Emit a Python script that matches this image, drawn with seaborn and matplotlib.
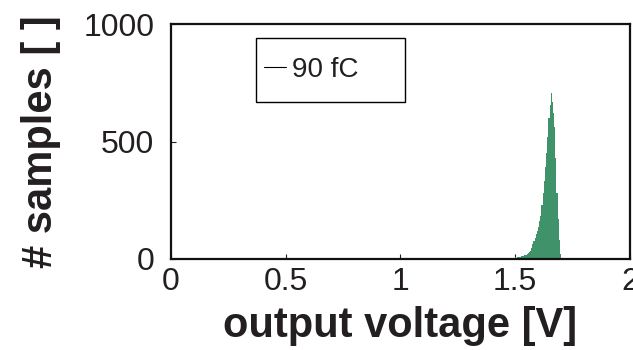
import numpy as np
import pandas as pd
import matplotlib
matplotlib.use("Agg")
import matplotlib.pyplot as plt
from matplotlib.lines import Line2D
from matplotlib.patches import Rectangle
import seaborn as sns

# Histogram of output voltage, 5 mV bins starting at 1.430 V
bin_start = 1.430
bin_width = 0.005
counts = [
    2, 2, 3, 2, 3, 3, 4, 3, 4, 5,          # 1.430 - 1.475
    4, 5, 6, 5, 7, 6, 8, 9, 10, 11,        # 1.480 - 1.525
    11, 13, 15, 17, 20, 24, 28, 35, 48, 62, # 1.530 - 1.575
    75, 89, 105, 120, 135, 160, 185, 230, 280, 330,  # 1.580 - 1.625
    390, 450, 520, 600, 655, 705, 670, 620, 560, 430,  # 1.630 - 1.675
    280, 170, 80, 20, 5, 3, 2, 3, 2, 2,    # 1.680 - 1.725
    3, 2, 2, 3, 2, 2, 3, 2, 2, 2,          # 1.730 - 1.775
    3, 2, 2, 2, 3, 2, 2, 2,                # 1.780 - 1.815
]
legend_label = "90 fC"
x_ticks = [0, 0.5, 1, 1.5, 2]
x_tick_labels = ["0", "0.5", "1", "1.5", "2"]
y_ticks = [0, 500, 1000]

centers = bin_start + bin_width * (np.arange(len(counts)) + 0.5)
bin_end = bin_start + bin_width * len(counts)
df = pd.DataFrame({"voltage": centers, "count": counts})

sns.set_style("ticks")
plt.rcParams["font.family"] = ["Liberation Sans", "DejaVu Sans"]
text_color = "#231f20"

fig = plt.figure(figsize=(6.33, 3.5), dpi=100)
ax = fig.add_axes([0.270, 0.26, 0.725, 0.671])

sns.histplot(data=df, x="voltage", weights="count", binwidth=bin_width,
             binrange=(bin_start, bin_end), ax=ax,
             color="#3f926a", alpha=1.0, linewidth=0, element="bars")

ax.set_xlim(0, 2)
ax.set_ylim(0, 1000)
ax.set_xticks(x_ticks)
ax.set_xticklabels(x_tick_labels)
ax.set_yticks(y_ticks)
ax.tick_params(direction="in", length=3.5, width=0.8, labelsize=23,
               colors=text_color)
ax.tick_params(axis="x", pad=6)
ax.tick_params(axis="y", pad=12)
for s in ax.spines.values():
    s.set_visible(True)
    s.set_linewidth(1.6)
    s.set_color("#111111")

ax.set_xlabel("output voltage [V]", fontsize=30, fontweight="bold",
              color=text_color, labelpad=6)
ax.set_ylabel("# samples [ ]", fontsize=30, fontweight="bold",
              color=text_color, labelpad=16)

# legend box with a short line handle
ax.add_patch(Rectangle((0.185, 0.668), 0.3246, 0.272, transform=ax.transAxes,
                       fill=False, edgecolor="black", linewidth=1.0,
                       zorder=5))
handle = Line2D([0], [0], color="black", linewidth=0.8)
leg = ax.legend([handle], [legend_label], loc="center left",
                bbox_to_anchor=(0.2026, 0.804), fontsize=20,
                handlelength=0.8, handletextpad=0.2, borderpad=0,
                borderaxespad=0, frameon=False)
for t in leg.get_texts():
    t.set_color(text_color)

fig.savefig("out.png", dpi=100)
